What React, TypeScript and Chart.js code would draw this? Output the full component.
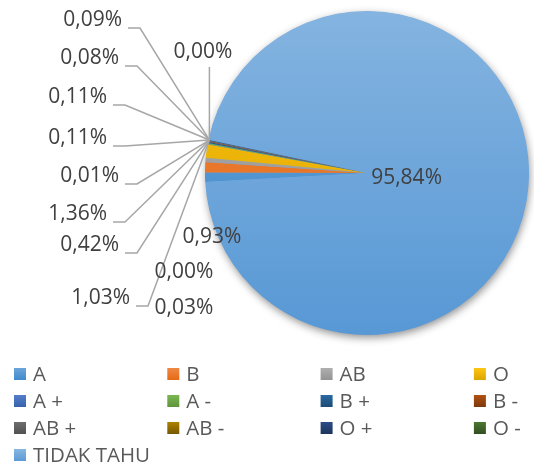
import React, { useEffect, useRef } from "react";
import { Chart, registerables } from "chart.js";

Chart.register(...registerables);

// ---- data ----
const categories = ["A", "B", "AB", "O", "A +", "A -", "B +", "B -", "AB +", "AB -", "O +", "O -", "TIDAK TAHU"];
const percentages = [0.93, 1.03, 0.42, 1.36, 0.01, 0.11, 0.11, 0.08, 0.09, 0.0, 0.03, 0.0, 95.84];
const sliceColors = ["#5B9BD5", "#ED7D31", "#A5A5A5", "#FFC000", "#4472C4", "#70AD47", "#255E91", "#9E480E", "#636363", "#997300", "#264478", "#43682B", "#78ACDD"];
const valueLabels = percentages.map((v) => v.toFixed(2).replace(".", ",") + "%");

// ---- label layout (offsets from the pie's leftmost point) ----
type Slot = { dx: number; dy: number; align: "left" | "right" | "center"; leader: "none" | "elbow" | "up" | "inside" };
const LABEL_LAYOUT: Slot[] = [
  { dx: 7, dy: 64, align: "center", leader: "none" },
  { dx: -75, dy: 125, align: "right", leader: "elbow" },
  { dx: -86, dy: 72, align: "right", leader: "elbow" },
  { dx: -98, dy: 41, align: "right", leader: "elbow" },
  { dx: -86, dy: 3, align: "right", leader: "elbow" },
  { dx: -98, dy: -35, align: "right", leader: "elbow" },
  { dx: -98, dy: -76, align: "right", leader: "elbow" },
  { dx: -86, dy: -115, align: "right", leader: "elbow" },
  { dx: -83, dy: -153, align: "right", leader: "elbow" },
  { dx: -21, dy: 99, align: "center", leader: "none" },
  { dx: -21, dy: 135, align: "center", leader: "none" },
  { dx: -2, dy: -121, align: "center", leader: "up" },
  { dx: 0, dy: 0, align: "center", leader: "inside" },
];

const FONT = '"Open Sans", sans-serif';

function hexToHsl(hex: string): [number, number, number] {
  const n = parseInt(hex.slice(1), 16);
  const r = ((n >> 16) & 255) / 255, g = ((n >> 8) & 255) / 255, b = (n & 255) / 255;
  const max = Math.max(r, g, b), min = Math.min(r, g, b);
  const l = (max + min) / 2;
  let h = 0, s = 0;
  const d = max - min;
  if (d > 0) {
    s = d / (1 - Math.abs(2 * l - 1));
    if (max === r) h = 60 * (((g - b) / d) % 6);
    else if (max === g) h = 60 * ((b - r) / d + 2);
    else h = 60 * ((r - g) / d + 4);
  }
  if (h < 0) h += 360;
  return [h, s * 100, l * 100];
}
function shade(hex: string, dl: number) {
  const [h, s, l] = hexToHsl(hex);
  return `hsl(${h.toFixed(1)}, ${s.toFixed(1)}%, ${Math.max(0, Math.min(100, l + dl)).toFixed(1)}%)`;
}

const shadowPlugin = {
  id: "pieShadow",
  beforeDatasetsDraw(chart: any) {
    const arc = chart.getDatasetMeta(0).data[0];
    if (!arc) return;
    const { x, y, outerRadius } = arc.getProps(["x", "y", "outerRadius"], true);
    const ctx = chart.ctx;
    ctx.save();
    ctx.shadowColor = "rgba(0,0,0,0.45)";
    ctx.shadowBlur = 8;
    ctx.shadowOffsetX = 1;
    ctx.shadowOffsetY = 3;
    ctx.beginPath();
    ctx.arc(x, y, outerRadius - 0.5, 0, Math.PI * 2);
    ctx.fillStyle = "#6fa4d8";
    ctx.fill();
    ctx.restore();
  },
};

const labelPlugin = {
  id: "sliceLabels",
  afterDatasetsDraw(chart: any) {
    const meta = chart.getDatasetMeta(0);
    const ctx = chart.ctx;
    const first = meta.data[0];
    const { x: cx, y: cy, outerRadius: r } = first.getProps(["x", "y", "outerRadius"], true);
    const ox = cx - r, oy = cy;
    const groupEnd = meta.data[categories.length - 2].getProps(["endAngle"], true).endAngle;
    const ax = cx + (r - 1) * Math.cos(groupEnd);
    const ay = cy + (r - 1) * Math.sin(groupEnd);
    ctx.save();
    ctx.font = `21px ${FONT}`;
    ctx.textBaseline = "middle";
    ctx.strokeStyle = "#A6A6A6";
    ctx.lineWidth = 1.5;
    for (let i = 0; i < categories.length; i++) {
      const slot = LABEL_LAYOUT[i];
      let tx = ox + slot.dx, ty = oy + slot.dy;
      if (slot.leader === "inside") {
        const a = meta.data[i].getProps(["startAngle", "endAngle"], true);
        const mid = (a.startAngle + a.endAngle) / 2;
        tx = cx + Math.cos(mid) * r * 0.245;
        ty = cy + Math.sin(mid) * r * 0.245 + 2;
      }
      if (slot.leader === "elbow") {
        ctx.beginPath();
        ctx.moveTo(tx + 6, ty + 8);
        ctx.lineTo(tx + 18, ty + 8);
        ctx.lineTo(ax, ay);
        ctx.stroke();
      } else if (slot.leader === "up") {
        ctx.beginPath();
        ctx.moveTo(ax, ty + 15);
        ctx.lineTo(ax, ay);
        ctx.stroke();
      }
      ctx.fillStyle = "#404040";
      ctx.textAlign = slot.align;
      ctx.fillText(valueLabels[i], tx, ty);
    }
    ctx.restore();
  },
};

const legendPlugin = {
  id: "gridLegend",
  afterDraw(chart: any) {
    const ctx = chart.ctx;
    const area = chart.chartArea;
    ctx.save();
    ctx.font = `20.5px ${FONT}`;
    ctx.textBaseline = "middle";
    ctx.textAlign = "left";
    const startY = area.bottom + 39;
    for (let i = 0; i < categories.length; i++) {
      const col = i % 4, row = Math.floor(i / 4);
      const bx = 14 + col * 153.3;
      const by = startY + row * 27;
      const g = ctx.createLinearGradient(0, by - 6, 0, by + 6);
      g.addColorStop(0, shade(sliceColors[i], 4));
      g.addColorStop(1, shade(sliceColors[i], -7));
      ctx.fillStyle = g;
      ctx.fillRect(bx, by - 6, 12, 12);
      ctx.fillStyle = "#595959";
      ctx.fillText(categories[i], bx + 19, by + 1);
    }
    ctx.restore();
  },
};

export default function App() {
  const ref = useRef<HTMLCanvasElement | null>(null);
  useEffect(() => {
    if (!ref.current) return;
    const chart = new Chart(ref.current, {
      type: "pie",
      data: {
        labels: categories,
        datasets: [
          {
            data: percentages,
            borderWidth: 0,
            backgroundColor: (c: any) => {
              const base = sliceColors[c.dataIndex] || "#000";
              const area = c.chart.chartArea;
              if (!area) return base;
              const g = c.chart.ctx.createLinearGradient(0, area.top, 0, area.bottom);
              g.addColorStop(0, shade(base, 3));
              g.addColorStop(1, shade(base, -8));
              return g;
            },
          },
        ],
      },
      options: {
        responsive: false,
        animation: false,
        events: [],
        rotation: 266.8,
        layout: { padding: { left: 205, right: 5, top: 11, bottom: 128 } },
        plugins: { legend: { display: false }, tooltip: { enabled: false } },
      },
      plugins: [shadowPlugin, labelPlugin, legendPlugin],
    });
    return () => chart.destroy();
  }, []);
  return (
    <div style={{ position: "absolute", left: 0, top: 0, width: 534, height: 463, background: "#fff" }}>
      <canvas ref={ref} width={534} height={463} style={{ display: "block" }} />
    </div>
  );
}
